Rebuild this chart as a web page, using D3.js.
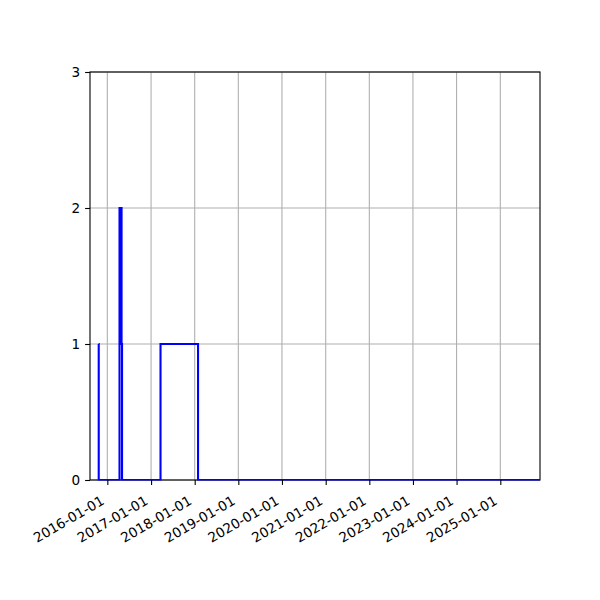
<!DOCTYPE html>
<html>
<head>
<meta charset="utf-8">
<script src="https://cdn.jsdelivr.net/npm/d3@7"></script>
<style>
  body { margin: 0; background: #fff; }
  text { font-family: "DejaVu Sans", sans-serif; font-size: 13.6px; fill: #000; }
</style>
</head>
<body>
<div id="chart-area"></div>
<script>
// step series
let dates = ["2015-10-20", "2015-10-21", "2016-04-12", "2016-04-29", "2016-05-03",
             "2017-03-21", "2018-01-29", "2025-11-29"];
let counts = [1, 0, 2, 1, 0, 1, 0, 0];

let xLimits = ["2015-08-09", "2025-11-29"];
let yTicks = [0, 1, 2, 3];
let xTickYears = [2016, 2017, 2018, 2019, 2020, 2021, 2022, 2023, 2024, 2025];

let parseDate = d3.timeParse("%Y-%m-%d");
let formatDate = d3.timeFormat("%Y-%m-%d");

let data = dates.map((d, i) => ({date: parseDate(d), value: counts[i]}));

let margin = {top: 72, right: 60, bottom: 120, left: 90};
let width = 600 - margin.left - margin.right;
let height = 600 - margin.top - margin.bottom;

let svg = d3.select("#chart-area").append("svg")
    .attr("width", 600)
    .attr("height", 600)
  .append("g")
    .attr("transform", "translate(" + margin.left + "," + margin.top + ")");

let xScale = d3.scaleTime()
  .domain(xLimits.map(parseDate))
  .range([0, width]);

let yScale = d3.scaleLinear()
  .domain([0, 3])
  .range([height, 0]);

let xTickDates = xTickYears.map(y => new Date(y, 0, 1));

// grid
svg.append("g").selectAll("line.xg")
  .data(xTickDates).enter().append("line")
  .attr("x1", d => xScale(d)).attr("x2", d => xScale(d))
  .attr("y1", 0).attr("y2", height)
  .attr("stroke", "#b0b0b0").attr("stroke-width", 1.1);

svg.append("g").selectAll("line.yg")
  .data(yTicks).enter().append("line")
  .attr("x1", 0).attr("x2", width)
  .attr("y1", d => yScale(d)).attr("y2", d => yScale(d))
  .attr("stroke", "#b0b0b0").attr("stroke-width", 1.1);

// frame
svg.append("rect")
  .attr("width", width).attr("height", height)
  .attr("fill", "none").attr("stroke", "#000").attr("stroke-width", 1.1);

// the step line, clipped to the axes
let line = d3.line()
  .x(d => xScale(d.date))
  .y(d => yScale(d.value))
  .curve(d3.curveStepAfter);

svg.append("defs").append("clipPath").attr("id", "clip")
  .append("rect").attr("width", width).attr("height", height + 0.5);

svg.append("path")
  .datum(data)
  .attr("clip-path", "url(#clip)")
  .attr("fill", "none")
  .attr("stroke", "#0000ff")
  .attr("stroke-width", 2.1)
  .attr("d", line);

// axes
let xAxis = d3.axisBottom(xScale)
  .tickValues(xTickDates)
  .tickSize(4.9)
  .tickPadding(4.9)
  .tickFormat(formatDate);

let xGroup = svg.append("g")
  .attr("transform", `translate(0,${height})`)
  .call(xAxis);

xGroup.select(".domain").remove();
xGroup.selectAll(".tick line").attr("stroke", "#000").attr("stroke-width", 1.1);
xGroup.selectAll(".tick text")
  .attr("font-size", null).attr("font-family", null)
  .attr("y", null).attr("dy", null)
  .attr("text-anchor", "end")
  .attr("transform", "translate(-2.5,23.5) rotate(-30)");

let yAxis = d3.axisLeft(yScale)
  .tickValues(yTicks)
  .tickSize(4.9)
  .tickPadding(4.9)
  .tickFormat(d3.format("d"));

let yGroup = svg.append("g").call(yAxis);
yGroup.select(".domain").remove();
yGroup.selectAll(".tick line").attr("stroke", "#000").attr("stroke-width", 1.1);
yGroup.selectAll(".tick text")
  .attr("font-size", null).attr("font-family", null)
  .attr("dy", "0.36em");
</script>
</body>
</html>
